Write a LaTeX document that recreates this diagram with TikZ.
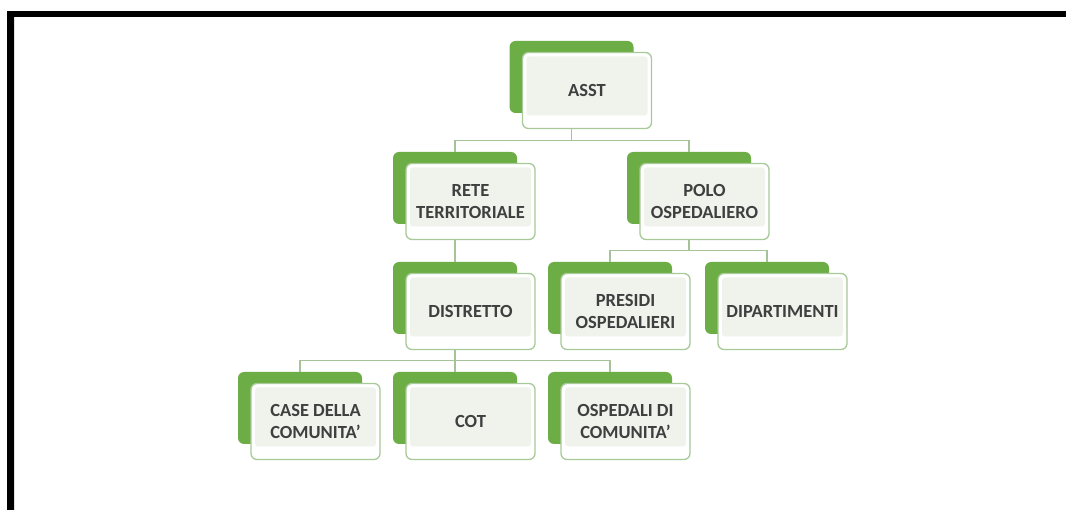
\documentclass[tikz,border=0pt]{standalone}
\usepackage{fontspec}
\setmainfont{Carlito}
\definecolor{boxgreen}{HTML}{6CAE45}
\definecolor{boxedge}{HTML}{A8C998}
\definecolor{innerfill}{HTML}{EFF3EC}
\definecolor{connline}{HTML}{A6C298}
\definecolor{txt}{HTML}{3F3F3F}
\tikzset{
  backbox/.style={fill=boxgreen, rounded corners=6pt, minimum width=124pt, minimum height=72pt, inner sep=0pt},
  frontbox/.style={draw=boxedge, line width=1.3pt, fill=white, rounded corners=6pt,
    minimum width=129pt, minimum height=76pt, inner sep=0pt, align=center,
    font=\fontsize{18.5}{21.5}\selectfont\bfseries, text=txt,
    path picture={\fill[innerfill, rounded corners=3pt]
      ([shift={(4pt,-4pt)}]path picture bounding box.north west) rectangle
      ([shift={(-4pt,13pt)}]path picture bounding box.south east);}},
  conn/.style={draw=connline, line width=1.4pt},
}
\newcommand{\orgbox}[4]{%
  \node[backbox] (#1b) at (#2,#3) {};
  \node[frontbox] (#1) at (#2+15.5,#3+13.5) {#4};
}
\begin{document}
\begin{tikzpicture}[x=1pt,y=-1pt]
\useasboundingbox (0,0) rectangle (1066,510);
\fill[white] (0,0) rectangle (1066,510);
% frame
\draw[black, line width=6.5pt] (1070,14) -- (10.5,14) -- (10.5,515);
\draw[black!12, line width=1pt] (14.5,17.5) -- (14.5,510);
% boxes
\orgbox{asst}{571.5}{77}{ASST}
\orgbox{rete}{455}{188}{RETE\\TERRITORIALE}
\orgbox{polo}{689}{188}{POLO\\OSPEDALIERO}
\orgbox{distr}{455}{298}{DISTRETTO}
\orgbox{presidi}{610}{298}{PRESIDI\\OSPEDALIERI}
\orgbox{dipart}{767}{298}{DIPARTIMENTI}
\orgbox{case}{300}{408}{CASE DELLA\\COMUNITA’}
\orgbox{cot}{455}{408}{COT}
\orgbox{osped}{610}{408}{OSPEDALI DI\\COMUNITA’}
% connectors
\draw[conn] (asstb.south |- asst.south) -- ++(0,11.5) coordinate (j1);
\draw[conn] (j1) -| (reteb.north);
\draw[conn] (j1) -| (polob.north);
\draw[conn] (reteb.south |- rete.south) -- (distrb.north);
\draw[conn] (polob.south |- polo.south) -- ++(0,10.5) coordinate (j2);
\draw[conn] (j2) -| (presidib.north);
\draw[conn] (j2) -| (dipartb.north);
\draw[conn] (distrb.south |- distr.south) -- ++(0,10.5) coordinate (j3);
\draw[conn] (j3) -| (caseb.north);
\draw[conn] (j3) -- (cotb.north);
\draw[conn] (j3) -| (ospedb.north);
\end{tikzpicture}
\end{document}
